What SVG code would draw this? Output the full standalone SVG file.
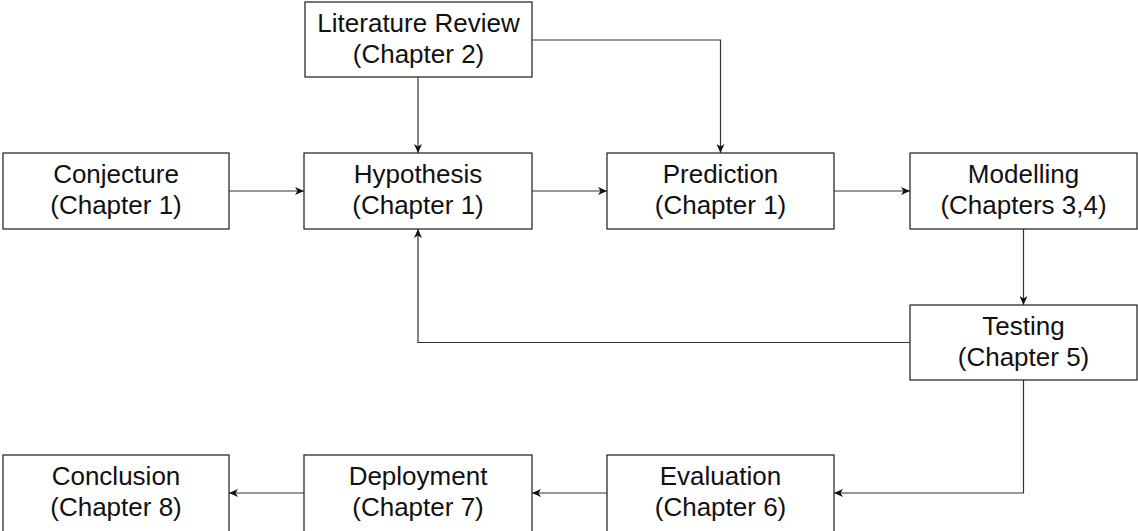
<svg xmlns="http://www.w3.org/2000/svg" width="1138" height="531" viewBox="0 0 1138 531">
  <style>
    .box { fill: #fff; stroke: #1a1a1a; stroke-width: 1.2; }
    .lbl { font-family: "Liberation Sans", Arial, Helvetica, sans-serif; font-size: 26px; fill: #111; text-anchor: middle; }
    .edge { fill: none; stroke: #333; stroke-width: 1.2; marker-end: url(#arrow); }
  </style>
  <defs>
    <marker id="arrow" markerUnits="userSpaceOnUse" markerWidth="10" markerHeight="8" refX="9" refY="4" orient="auto">
      <path d="M0,0 L9,4 L0,8 L2.5,4 z" fill="#111"/>
    </marker>
  </defs>

  <g id="literature-review">
    <rect class="box" x="305" y="2" width="227" height="75"/>
    <text class="lbl" x="418.5" y="32">Literature Review</text>
    <text class="lbl" x="418.5" y="63">(Chapter 2)</text>
  </g>
  <g id="conjecture">
    <rect class="box" x="3" y="153" width="226" height="76"/>
    <text class="lbl" x="116" y="183">Conjecture</text>
    <text class="lbl" x="116" y="214">(Chapter 1)</text>
  </g>
  <g id="hypothesis">
    <rect class="box" x="304" y="153" width="228" height="76"/>
    <text class="lbl" x="418" y="183">Hypothesis</text>
    <text class="lbl" x="418" y="214">(Chapter 1)</text>
  </g>
  <g id="prediction">
    <rect class="box" x="607" y="153" width="227" height="76"/>
    <text class="lbl" x="720.5" y="183">Prediction</text>
    <text class="lbl" x="720.5" y="214">(Chapter 1)</text>
  </g>
  <g id="modelling">
    <rect class="box" x="910" y="153" width="227" height="76"/>
    <text class="lbl" x="1023.5" y="183">Modelling</text>
    <text class="lbl" x="1023.5" y="214">(Chapters 3,4)</text>
  </g>
  <g id="testing">
    <rect class="box" x="910" y="305" width="227" height="75"/>
    <text class="lbl" x="1023.5" y="335">Testing</text>
    <text class="lbl" x="1023.5" y="366">(Chapter 5)</text>
  </g>
  <g id="conclusion">
    <rect class="box" x="3" y="455" width="226" height="80"/>
    <text class="lbl" x="116" y="485">Conclusion</text>
    <text class="lbl" x="116" y="516">(Chapter 8)</text>
  </g>
  <g id="deployment">
    <rect class="box" x="304" y="455" width="228" height="80"/>
    <text class="lbl" x="418" y="485">Deployment</text>
    <text class="lbl" x="418" y="516">(Chapter 7)</text>
  </g>
  <g id="evaluation">
    <rect class="box" x="607" y="455" width="227" height="80"/>
    <text class="lbl" x="720.5" y="485">Evaluation</text>
    <text class="lbl" x="720.5" y="516">(Chapter 6)</text>
  </g>

  <g id="connectors">
    <path class="edge" d="M229,191 H304"/>
    <path class="edge" d="M532,191 H607"/>
    <path class="edge" d="M834,191 H910"/>
    <path class="edge" d="M418,77 V153"/>
    <path class="edge" d="M532,40 H720.5 V153"/>
    <path class="edge" d="M1023.5,229 V305"/>
    <path class="edge" d="M910,342.5 H418 V229"/>
    <path class="edge" d="M1023.5,380 V493 H834"/>
    <path class="edge" d="M607,493 H532"/>
    <path class="edge" d="M304,493 H229"/>
  </g>
</svg>
